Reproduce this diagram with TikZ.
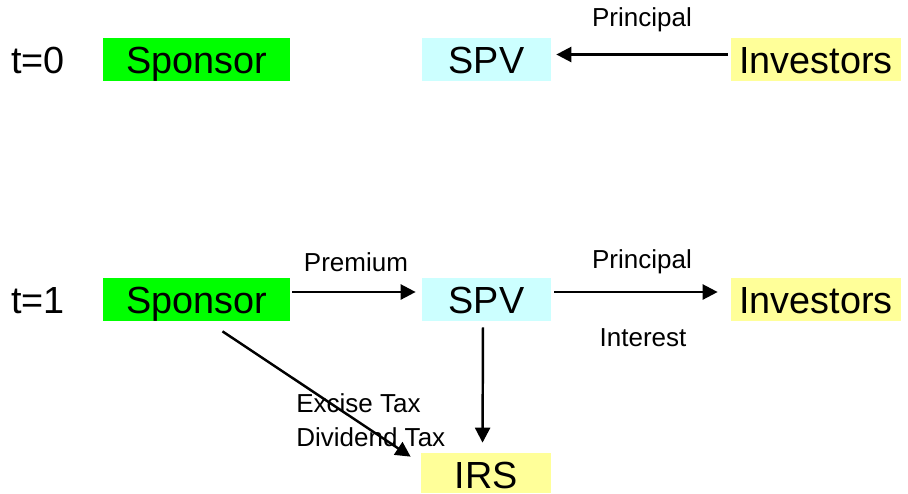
\documentclass[tikz,border=0pt]{standalone}
\usepackage{fontspec}
\setmainfont{Liberation Sans}
\usetikzlibrary{arrows.meta}
\definecolor{sponsorgreen}{HTML}{00FF00}
\definecolor{spvcyan}{HTML}{CCFFFF}
\definecolor{paleyellow}{HTML}{FFFF99}
\begin{document}
\begin{tikzpicture}[
	box/.style={text height=0.70cm,text depth=0.16cm,inner sep=0pt,font=\fontsize{21.5}{25}\selectfont},
	lbl/.style={inner sep=0pt,font=\fontsize{14.8}{19.5}\selectfont},
	flow/.style={line width=1.4pt,-{Triangle[length=0.3cm,width=0.3cm]}}]
	\useasboundingbox (0,0) rectangle (18.16,-9.86);
	% t=0
	\node[box] (T0) at (0.76,-1.19) {t=0};
	\node[box,fill=sponsorgreen,minimum width=3.74cm] (A) at (3.93,-1.19) {Sponsor};
	\node[box,fill=spvcyan,minimum width=2.58cm] (B) at (9.73,-1.19) {SPV};
	\node[box,fill=paleyellow,minimum width=3.4cm] (C) at (16.32,-1.19) {Investors};
	\node[lbl] (L1) at (12.84,-0.4) {Principal};
	
	\draw[flow,shorten <=0.06cm,shorten >=0.1cm] ([yshift=0.1cm]C.west) -- ([yshift=0.1cm]B.east);
	
	% t=1
	\node[box] (T1) at (0.76,-5.99) {t=1};
	\node[box,fill=sponsorgreen,minimum width=3.74cm] (D) at (3.93,-5.99) {Sponsor};
	\node[box,fill=spvcyan,minimum width=2.58cm] (E) at (9.73,-5.99) {SPV};
	\node[box,fill=paleyellow,minimum width=3.4cm] (F) at (16.32,-5.99) {Investors};
	\node[box,text depth=0.1cm,fill=paleyellow,minimum width=2.6cm] (G) at (9.72,-9.46) {IRS};
	\node[lbl] (L2) at (7.12,-5.24) {Premium};
	\node[lbl] (L3) at (12.84,-5.24) {Principal};
	\node[lbl] (L4) at (12.86,-6.76) {Interest};
	\node[lbl,align=left,anchor=west] (L5) at (5.92,-8.4) {Excise Tax\\Dividend Tax};
	
	\draw[flow,shorten <=0.04cm,shorten >=0.12cm] ([yshift=0.15cm]D.east) -- ([yshift=0.15cm]E.west);
	\draw[flow,shorten <=0.06cm,shorten >=0.26cm] ([yshift=0.15cm]E.east) -- ([yshift=0.15cm]F.west);
	\draw[flow] ([xshift=0.52cm,yshift=-0.2cm]D.south) -- ([xshift=-0.2cm,yshift=-0.08cm]G.north west);
	\draw[flow,shorten <=0.12cm,shorten >=0.2cm] ([xshift=-0.07cm]E.south) -- ([xshift=-0.07cm]G.north);
\end{tikzpicture}
\end{document}
